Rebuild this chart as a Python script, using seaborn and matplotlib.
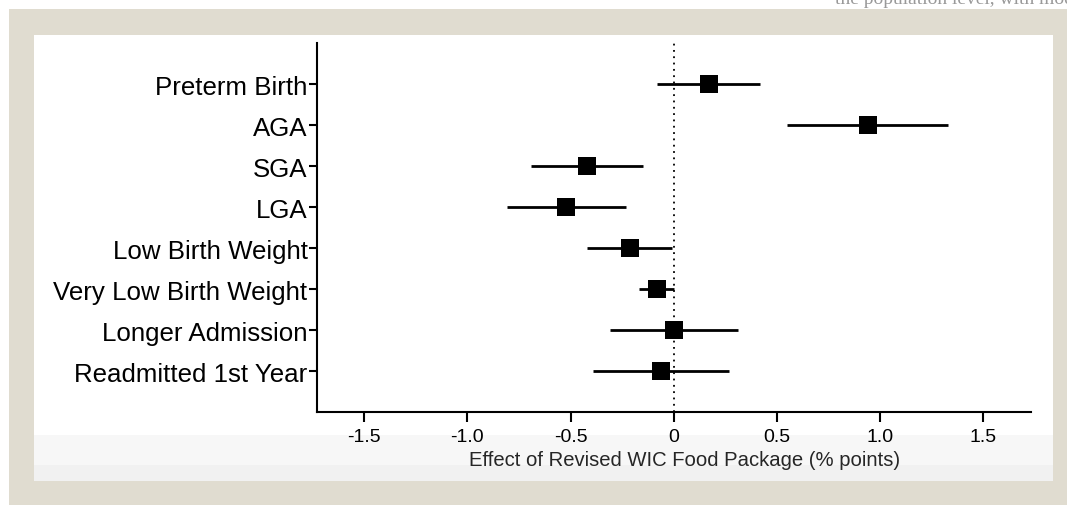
import matplotlib
matplotlib.use("Agg")
import matplotlib.pyplot as plt
from matplotlib.patches import Rectangle
import seaborn as sns
import pandas as pd

outcomes = ["Preterm Birth", "AGA", "SGA", "LGA", "Low Birth Weight",
            "Very Low Birth Weight", "Longer Admission", "Readmitted 1st Year"]
estimate = [0.17, 0.94, -0.42, -0.52, -0.21, -0.08, 0.00, -0.06]
ci_low = [-0.08, 0.55, -0.69, -0.81, -0.42, -0.17, -0.31, -0.39]
ci_high = [0.42, 1.33, -0.15, -0.23, -0.01, 0.00, 0.31, 0.27]
xticks = [-1.5, -1.0, -0.5, 0, 0.5, 1.0, 1.5]
xticklabels = ["-1.5", "-1.0", "-0.5", "0", "0.5", "1.0", "1.5"]
xlabel = "Effect of Revised WIC Food Package (% points)"

df = pd.DataFrame({"outcome": outcomes, "est": estimate, "lo": ci_low, "hi": ci_high})
df["pos"] = range(len(df))

sns.set_theme(style="white")
plt.rcParams["font.family"] = ["Liberation Sans", "DejaVu Sans"]

W, H = 1067, 506
fig = plt.figure(figsize=(W / 100, H / 100), dpi=100, facecolor="white")

def px_rect(x0, y0, x1, y1, color, z=0):
    fig.patches.append(Rectangle((x0 / W, 1 - y1 / H), (x1 - x0) / W, (y1 - y0) / H,
                                 transform=fig.transFigure, facecolor=color,
                                 edgecolor="none", zorder=z))

px_rect(9, 10, W, H, "#e0dcd0", 0)
px_rect(34, 36, 1053, 482, "#ffffff", 1)
px_rect(34, 436, 1053, 466, "#f7f7f7", 2)
px_rect(34, 466, 1053, 482, "#f1f1f1", 2)

# partially visible running text above the figure box (cropped in the reference too)
fig.text(835 / W, 1 + 1 / H, "the population level, with modest effects",
         family=["Liberation Serif", "DejaVu Serif"], fontsize=14, color="#999999",
         ha="left", va="center", zorder=0)

ax = fig.add_axes([317.3 / W, 1 - 413.3 / H, (1030.7 - 317.3) / W, (413.3 - 44.3) / H])
ax.set_facecolor("none")
ax.set_zorder(5)

ax.axvline(0, color="black", lw=1.3, linestyle=(0, (1, 2.5)), zorder=1)
ax.hlines(df["pos"], df["lo"], df["hi"], color="black", lw=2.0, zorder=2)
sns.scatterplot(data=df, x="est", y="pos", marker="s", s=150, color="black",
                edgecolor="black", linewidth=0, ax=ax, zorder=3, legend=False)

ax.set_xlim(-1.727, 1.73)
ax.set_ylim(8, -1)
ax.set_yticks(df["pos"])
ax.set_yticklabels(outcomes, fontsize=18.6)
ax.set_xticks(xticks)
ax.set_xticklabels(xticklabels, fontsize=14)
ax.set_xlabel(xlabel, fontsize=14.6, labelpad=4)
ax.xaxis.label.set_x(0.515)
ax.set_ylabel("")

for side in ["top", "right"]:
    ax.spines[side].set_visible(False)
for side in ["left", "bottom"]:
    ax.spines[side].set_color("black")
    ax.spines[side].set_linewidth(1.5)
ax.tick_params(axis="x", direction="out", length=7, width=1.5, color="black",
               pad=4, labelcolor="black", bottom=True)
ax.tick_params(axis="y", direction="out", length=6, width=1.5, color="black",
               pad=1, labelcolor="black", left=True)

fig.savefig("out.png", dpi=100, facecolor=fig.get_facecolor())
